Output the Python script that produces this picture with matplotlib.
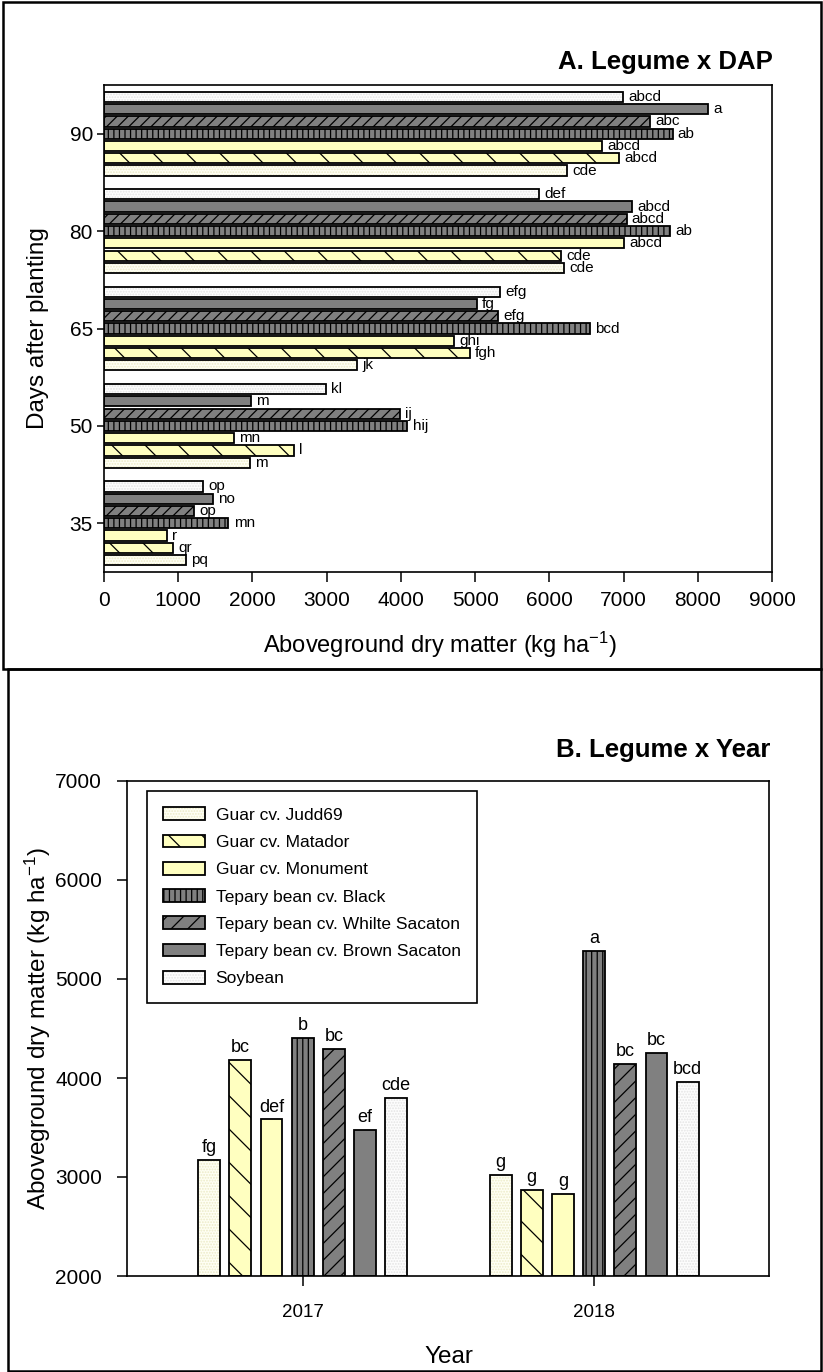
import matplotlib
matplotlib.use("Agg")
import matplotlib.pyplot as plt
from matplotlib.patches import Patch, Rectangle
from matplotlib.legend_handler import HandlerTuple

plt.rcParams['font.family'] = ['Liberation Sans', 'DejaVu Sans']
plt.rcParams['mathtext.fontset'] = 'custom'
plt.rcParams['mathtext.rm'] = 'Liberation Sans'
plt.rcParams['mathtext.default'] = 'regular'
plt.rcParams['hatch.linewidth'] = 0.9

# legumes, in plotting order (bottom to top within a group)
legumes = ['Guar cv. Judd69', 'Guar cv. Matador', 'Guar cv. Monument',
           'Tepary bean cv. Black', 'Tepary bean cv. Whilte Sacaton',
           'Tepary bean cv. Brown Sacaton', 'Soybean']

# A. aboveground dry matter (kg/ha) by days after planting
dap = [35, 50, 65, 80, 90]
dap_judd69 = [1103, 1965, 3406, 6197, 6239]
dap_matador = [934, 2562, 4931, 6154, 6938]
dap_monument = [850, 1754, 4720, 7010, 6709]
dap_black = [1676, 4087, 6546, 7625, 7661]
dap_white = [1218, 3984, 5310, 7040, 7360]
dap_brown = [1465, 1983, 5021, 7119, 8137]
dap_soybean = [1332, 2990, 5341, 5865, 6992]

let_judd69 = ['pq', 'm', 'jk', 'cde', 'cde']
let_matador = ['qr', 'l', 'fgh', 'cde', 'abcd']
let_monument = ['r', 'mn', 'ghi', 'abcd', 'abcd']
let_black = ['mn', 'hij', 'bcd', 'ab', 'ab']
let_white = ['op', 'ij', 'efg', 'abcd', 'abc']
let_brown = ['no', 'm', 'fg', 'abcd', 'a']
let_soybean = ['op', 'kl', 'efg', 'def', 'abcd']

# B. aboveground dry matter (kg/ha) by year
years = [2017, 2018]
yr_judd69 = [3169, 3017]
yr_matador = [4185, 2872]
yr_monument = [3581, 2828]
yr_black = [4404, 5286]
yr_white = [4296, 4141]
yr_brown = [3473, 4256]
yr_soybean = [3795, 3963]

yl_judd69 = ['fg', 'g']
yl_matador = ['bc', 'g']
yl_monument = ['def', 'g']
yl_black = ['b', 'a']
yl_white = ['bc', 'bc']
yl_brown = ['ef', 'bc']
yl_soybean = ['cde', 'bcd']

dap_vals = [dap_judd69, dap_matador, dap_monument, dap_black, dap_white, dap_brown, dap_soybean]
dap_lets = [let_judd69, let_matador, let_monument, let_black, let_white, let_brown, let_soybean]
yr_vals = [yr_judd69, yr_matador, yr_monument, yr_black, yr_white, yr_brown, yr_soybean]
yr_lets = [yl_judd69, yl_matador, yl_monument, yl_black, yl_white, yl_brown, yl_soybean]

# fill, hatch colour, hatch for panel A, hatch for panel B
styles = [
    ('#fffff4', '#ecebc8', '......', '......'),
    ('#ffffc0', 'black', '\\', '\\'),
    ('#ffffc0', 'black', '', ''),
    ('#808080', 'black', '|||', '|||'),
    ('#808080', 'black', '///', '//'),
    ('#808080', 'black', '', ''),
    ('#fdfdfd', '#e4e4e4', '......', '......'),
]

fig = plt.figure(figsize=(8.23, 13.72), dpi=100)
W, H = 823.0, 1372.0


def fx(px):
    return px / W


def fy(py):
    return 1 - py / H


# panel frames
fig.add_artist(Rectangle((fx(3), fy(669)), fx(818), 667 / H, transform=fig.transFigure,
                         fill=False, lw=1.8, ec='black'))
fig.add_artist(Rectangle((fx(8), fy(1371)), fx(813), 702 / H, transform=fig.transFigure,
                         fill=False, lw=1.8, ec='black'))

# ---------- A. Legume x DAP ----------
axA = fig.add_axes([fx(104), fy(572), (772 - 104) / W, (572 - 85) / H])
pitch = 0.126
bh = 0.105
groups = list(range(len(dap)))
for i, (vals, lets, st) in enumerate(zip(dap_vals, dap_lets, styles)):
    face, hcol, hatchA, _ = st
    pos = [g + (i - 3) * pitch for g in groups]
    axA.barh(pos, vals, height=bh, color=face, edgecolor=hcol, hatch=hatchA, lw=0, zorder=2)
    axA.barh(pos, vals, height=bh, fill=False, edgecolor='black', lw=1.3, zorder=3)
    for p, v, t in zip(pos, vals, lets):
        axA.text(v + 70, p, t, fontsize=11, va='center', ha='left')

axA.set_xlim(0, 9000)
axA.set_ylim(-0.5, 4.5)
axA.set_xticks(range(0, 9001, 1000))
axA.set_yticks(groups)
axA.set_yticklabels([str(d) for d in dap])
axA.tick_params(axis='x', direction='out', length=7, width=1.1, labelsize=15, pad=7)
axA.tick_params(axis='y', direction='out', length=5, width=1.1, labelsize=15, pad=3)
for s in axA.spines.values():
    s.set_linewidth(1.2)

fig.text(fx(773), fy(62), 'A. Legume x DAP', fontsize=18.5, fontweight='bold',
         ha='right', va='center')
fig.text(fx(440), fy(645), 'Aboveground dry matter (kg ha$^{-1}$)', fontsize=17,
         ha='center', va='center')
fig.text(fx(38), fy(328), 'Days after planting', fontsize=17.5, rotation=90,
         ha='center', va='center')

# ---------- B. Legume x Year ----------
axB = fig.add_axes([fx(127), fy(1276), (769 - 127) / W, (1276 - 781) / H])
bpitch = 0.107
bw = 0.075
handles = []
for i, (vals, lets, st) in enumerate(zip(yr_vals, yr_lets, styles)):
    face, hcol, _, hatchB = st
    pos = [y + (i - 3) * bpitch for y in years]
    heights = [v - 2000 for v in vals]
    axB.bar(pos, heights, width=bw, bottom=2000, color=face, edgecolor=hcol,
            hatch=hatchB, lw=0, zorder=2)
    axB.bar(pos, heights, width=bw, bottom=2000, fill=False, edgecolor='black',
            lw=1.3, zorder=3)
    for p, v, t in zip(pos, vals, lets):
        axB.text(p, v + 40, t, fontsize=13, ha='center', va='bottom')
    handles.append((Patch(facecolor=face, edgecolor=hcol, hatch=hatchB, lw=0),
                    Patch(fill=False, edgecolor='black', lw=1.3)))

axB.set_xlim(2016.397, 2018.6)
axB.set_ylim(2000, 7000)
axB.set_xticks(years)
axB.set_xticklabels([str(y) for y in years])
axB.set_yticks(range(2000, 7001, 1000))
axB.tick_params(axis='x', direction='out', length=7, width=1.1, labelsize=13.5, pad=13)
axB.tick_params(axis='y', direction='out', length=7, width=1.1, labelsize=15, pad=11)
for s in axB.spines.values():
    s.set_linewidth(1.2)

leg = axB.legend(handles, legumes, handler_map={tuple: HandlerTuple()},
                 loc='upper left', bbox_to_anchor=(fx(147), fy(791)),
                 bbox_transform=fig.transFigure, fontsize=12.5, frameon=True,
                 fancybox=False, framealpha=1, edgecolor='black',
                 handlelength=2.4, handleheight=0.75, labelspacing=0.68,
                 borderpad=0.95, handletextpad=0.6, borderaxespad=0)
leg.get_frame().set_linewidth(1.2)

fig.text(fx(770), fy(750), 'B. Legume x Year', fontsize=18.5, fontweight='bold',
         ha='right', va='center')
fig.text(fx(449), fy(1357), 'Year', fontsize=17.5, ha='center', va='center')
fig.text(fx(38), fy(1028), 'Aboveground dry matter (kg ha$^{-1}$)', fontsize=17.5,
         rotation=90, ha='center', va='center')

fig.savefig('out.png', dpi=100)
